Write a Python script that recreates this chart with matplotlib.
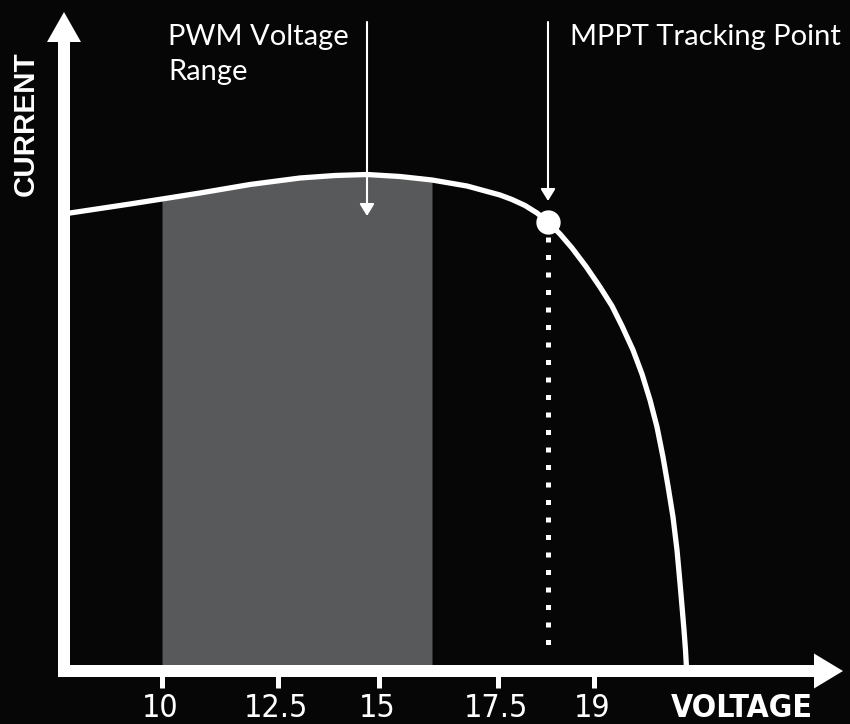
import matplotlib
matplotlib.use('Agg')
import matplotlib.pyplot as plt
from matplotlib import font_manager as fm
import numpy as np

# I-V curve (x to the right, y downwards, pixel-like units)
curve_x = [70, 100, 130, 162, 200, 250, 300, 335, 367, 400, 432, 467, 500,
           512, 525, 537, 548, 560, 572, 586, 600, 612, 622, 633, 642, 650,
           657, 663, 668, 673, 677, 680, 682.5, 684, 685.5, 686.5]
curve_y = [213, 208.5, 204, 199, 193, 184.5, 178, 175.5, 174.5, 176.5, 180, 186, 195,
           199.5, 205.5, 213, 222, 234, 248, 266.5, 287, 306, 326, 350, 374, 400,
           427, 457, 486, 517, 550, 583, 612, 630, 650, 668]

pwm_range = [162, 432]
mppt_x, mppt_y = 548, 222
tick_pos = [162, 278, 379, 498, 594]
tick_labels = ['10', '12.5', '15', '17.5', '19']

bg = '#060606'
gray = '#58595b'


def narrow_font():
    # a condensed face if one is around, else plain Liberation Sans
    for fam, kw in [('Liberation Sans Narrow', {}), ('DejaVu Sans', {'stretch': 'condensed'})]:
        try:
            path = fm.findfont(fm.FontProperties(family=fam, **kw), fallback_to_default=False)
        except ValueError:
            continue
        if 'Narrow' in path or 'Condensed' in path:
            return fam, kw.get('stretch', 'normal'), True
    return 'Liberation Sans', 'normal', False


nfam, nstretch, is_narrow = narrow_font()
tick_fs = 23 if is_narrow else 20.5
volt_fs = 23 if is_narrow else 19.5

fig = plt.figure(figsize=(8.5, 7.24), dpi=100, facecolor=bg)
ax = fig.add_axes([0, 0, 1, 1])
ax.set_facecolor(bg)
ax.set_xlim(0, 850)
ax.set_ylim(724, 0)
ax.axis('off')

cx = np.array(curve_x)
cy = np.array(curve_y)

# shaded PWM range under the curve
mask = (cx >= pwm_range[0]) & (cx <= pwm_range[1])
ax.fill_between(cx, cy, 665, where=mask, color=gray, lw=0, zorder=1)

# curve
ax.plot(cx, cy, color='white', lw=3.8, solid_joinstyle='round', zorder=3)

# dotted drop line + tracking point
ax.plot([mppt_x, mppt_x], [mppt_y + 15, 656], color='white', lw=3.6,
        linestyle=(0, (1, 2.5)), dash_capstyle='butt', zorder=2)
ax.plot(mppt_x, mppt_y, 'o', ms=16.5, color='white', zorder=5)

# axes with arrow heads
ax.arrow(64, 677, 0, -665, width=12, head_width=34, head_length=30,
         length_includes_head=True, color='white', lw=0, zorder=4)
ax.arrow(58, 671, 785, 0, width=12, head_width=35, head_length=29,
         length_includes_head=True, color='white', lw=0, zorder=4)

# ticks + labels
ax.vlines(tick_pos, 676, 688, color='white', lw=3.6, zorder=4)
for p, lab in zip(tick_pos, tick_labels):
    ax.text(p - 2, 717, lab, ha='center', va='baseline', color='white',
            fontsize=tick_fs, family=[nfam, 'DejaVu Sans'], fontstretch=nstretch)

ax.text(742, 717, 'VOLTAGE', ha='center', va='baseline', color='white',
        fontsize=volt_fs, fontweight='bold', family=[nfam, 'DejaVu Sans'],
        fontstretch=nstretch)
ax.text(33.3, 124, 'CURRENT', ha='center', va='baseline', rotation=90,
        rotation_mode='anchor', color='white', fontsize=21.3, fontweight='bold',
        family=['Liberation Sans', 'DejaVu Sans'])

# annotations
arw = dict(arrowstyle='-|>,head_length=0.36,head_width=0.22', color='white',
           lw=1.5, shrinkA=0, shrinkB=0, mutation_scale=20)
ax.annotate('', xy=(367, 216), xytext=(367, 22), arrowprops=arw, zorder=6)
ax.annotate('', xy=(548, 201), xytext=(548, 22), arrowprops=arw, zorder=6)

lato = ['Lato', 'DejaVu Sans']
ax.text(168, 44.5, 'PWM Voltage', ha='left', va='baseline', color='white',
        fontsize=21, family=lato)
ax.text(168, 80, 'Range', ha='left', va='baseline', color='white',
        fontsize=21, family=lato)
ax.text(570, 45, 'MPPT Tracking Point', ha='left', va='baseline', color='white',
        fontsize=21, family=lato)

fig.savefig('out.png', dpi=100, facecolor=bg)
